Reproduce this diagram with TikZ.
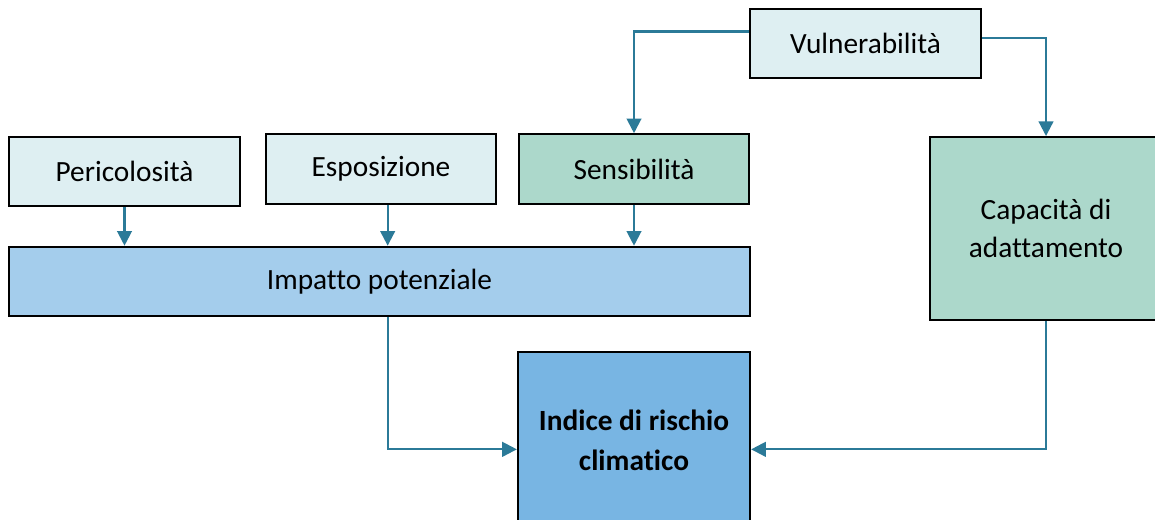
\documentclass[tikz,border=0pt]{standalone}
\usepackage{fontspec}
\setmainfont{Carlito}[Ligatures=NoCommon]
\usetikzlibrary{arrows.meta, positioning, calc}
\definecolor{cpale}{HTML}{DEEFF2}
\definecolor{cgreen}{HTML}{ACD8CB}
\definecolor{clight}{HTML}{A4CDEC}
\definecolor{cblue}{HTML}{78B5E3}
\definecolor{carrow}{HTML}{2B7A98}
\tikzset{
  every picture/.style={line width=1.2pt},
  box/.style={draw=black, fill=#1, line width=1.7pt, align=center, inner sep=0pt,
    minimum width=173pt, minimum height=52pt, font=\fontsize{22}{29}\selectfont},
  box/.default=cpale,
  arrow/.style={-{Triangle[length=11pt, width=11pt]}, draw=carrow, line width=1.6pt},
}

\begin{document}
\begin{tikzpicture}[x=0.75pt, y=-0.75pt]
  \useasboundingbox (0,0) rectangle (1155,519);
  \node[box] (vul) at (865.5,43.5) {Vulnerabilità};
  \node[box] (peri) at (124.5,171.5) {Pericolosità};
  \node[box] (espo) at (381,169) {Esposizione};
  \node[box=cgreen] (sens) at (634,169) {Sensibilità};
  \node[box=clight, minimum width=556pt] (imp) at (379.5,281.5) {Impatto potenziale};
  \node[box=cgreen, minimum width=174pt, minimum height=137pt] (cap) at (1046,228.5) {Capacità di\\adattamento};
  \node[box=cblue, minimum width=174pt, minimum height=132pt, font=\fontsize{22}{30}\selectfont\bfseries] (ind) at (634,440) {Indice di rischio\\climatico};
  % vulnerabilita
  \draw[arrow] ([yshift=9pt]vul.west) -| (sens.north);
  \draw[arrow] ([yshift=4pt]vul.east) -| (cap.north);
  % impatto
  \draw[arrow] (peri.south) -- (peri.south |- imp.north);
  \draw[arrow] ([xshift=5pt]espo.south) -- ([xshift=5pt]espo.south |- imp.north);
  \draw[arrow] (sens.south) -- (sens.south |- imp.north);
  % rischio
  \draw[arrow] ([xshift=5pt]espo.south |- imp.south) |- ([yshift=-7pt]ind.west);
  \draw[arrow] (cap.south) |- ([yshift=-7pt]ind.east);
\end{tikzpicture}
\end{document}
